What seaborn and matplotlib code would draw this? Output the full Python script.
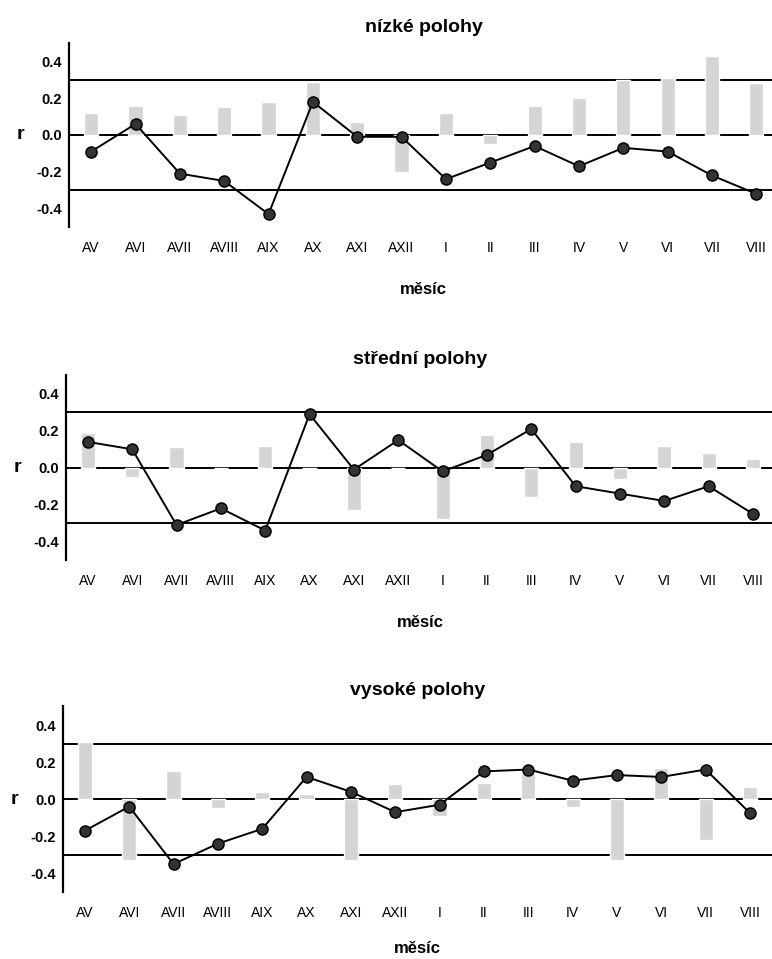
import matplotlib
matplotlib.use('Agg')
import matplotlib.pyplot as plt
import seaborn as sns

# months of the season (A = previous year)
months = ['AV', 'AVI', 'AVII', 'AVIII', 'AIX', 'AX', 'AXI', 'AXII',
          'I', 'II', 'III', 'IV', 'V', 'VI', 'VII', 'VIII']

# correlation coefficients
low_bars = [0.12, 0.16, 0.11, 0.15, 0.18, 0.29, 0.07, -0.20,
            0.12, -0.05, 0.16, 0.20, 0.30, 0.31, 0.43, 0.28]
low_line = [-0.09, 0.06, -0.21, -0.25, -0.43, 0.18, -0.01, -0.01,
            -0.24, -0.15, -0.06, -0.17, -0.07, -0.09, -0.22, -0.32]

mid_bars = [0.19, -0.05, 0.11, 0.0, 0.12, 0.0, -0.23, 0.0,
            -0.28, 0.18, -0.16, 0.14, -0.06, 0.12, 0.08, 0.05]
mid_line = [0.14, 0.10, -0.31, -0.22, -0.34, 0.29, -0.01, 0.15,
            -0.02, 0.07, 0.21, -0.10, -0.14, -0.18, -0.10, -0.25]

high_bars = [0.31, -0.33, 0.15, -0.05, 0.04, 0.03, -0.33, 0.08,
             -0.09, 0.085, 0.14, -0.04, -0.33, 0.17, -0.22, 0.066]
high_line = [-0.17, -0.04, -0.35, -0.24, -0.16, 0.12, 0.04, -0.07,
             -0.03, 0.15, 0.16, 0.10, 0.13, 0.12, 0.16, -0.075]

titles = ['nízké polohy', 'střední polohy', 'vysoké polohy']
ref_levels = [0.3, 0.0, -0.3]
yticks = [0.4, 0.2, 0.0, -0.2, -0.4]

sns.set_style('white')
plt.rcParams['font.family'] = ['Liberation Sans', 'DejaVu Sans']
plt.rcParams['text.color'] = 'black'
plt.rcParams['axes.labelcolor'] = 'black'
plt.rcParams['xtick.color'] = 'black'
plt.rcParams['ytick.color'] = 'black'

fig = plt.figure(figsize=(7.72, 9.59), dpi=100)

rects = [
    [0.0894, 0.7633, 0.919, 0.1919],
    [0.0851, 0.4160, 0.919, 0.1925],
    [0.0812, 0.0700, 0.919, 0.1933],
]
xlabel_pads = [19.5, 19.5, 15]
series = [(low_bars, low_line), (mid_bars, mid_line), (high_bars, high_line)]

for title, (bars, line), rect, lpad in zip(titles, series, rects, xlabel_pads):
    ax = fig.add_axes(rect)
    for lev in ref_levels:
        ax.axhline(lev, color='black', lw=1.4, zorder=1)
    sns.barplot(x=months, y=bars, color='#d4d4d4', saturation=1, width=0.32,
                ax=ax, zorder=2)
    sns.pointplot(x=months, y=line, color='black', markers='o', markersize=8,
                  linewidth=1.4, errorbar=None, ax=ax,
                  markerfacecolor='#333333', markeredgecolor='black', zorder=3)

    ax.set_xlim(-0.5, 15.5)
    ax.set_ylim(-0.5, 0.5)
    ax.set_yticks(yticks)
    ax.set_yticklabels(['0.4', '0.2', '0.0', '-0.2', '-0.4'],
                       fontsize=10.5, fontweight='bold')
    ax.tick_params(axis='y', length=4, width=1.2, pad=1, direction='out')
    ax.tick_params(axis='x', length=0, pad=10)
    for lab in ax.get_xticklabels():
        lab.set_fontsize(10)

    for side in ['top', 'right', 'bottom']:
        ax.spines[side].set_visible(False)
    ax.spines['left'].set_linewidth(1.6)
    ax.spines['left'].set_color('black')

    ax.set_title(title, fontsize=14, fontweight='bold', pad=8)
    ax.set_xlabel('měsíc', fontsize=12, fontweight='bold', labelpad=lpad)
    ax.set_ylabel('r', fontsize=14, fontweight='bold', rotation=0, va='center')
    ax.yaxis.set_label_coords(-0.068, 0.5)

fig.savefig('out.png', dpi=100, facecolor='white')
